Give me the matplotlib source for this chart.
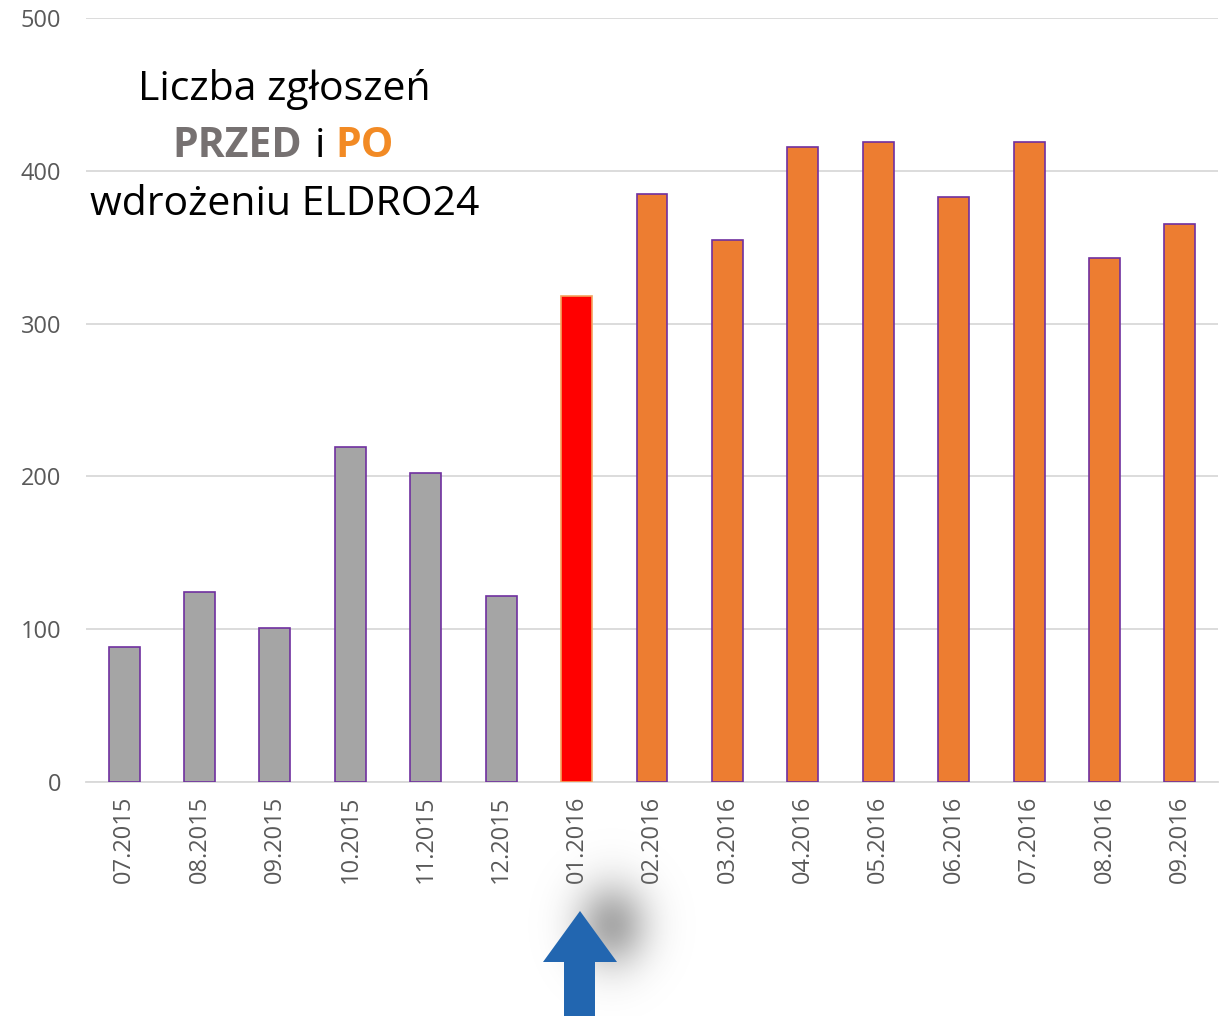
import numpy as np
import matplotlib
matplotlib.use("Agg")
import matplotlib.pyplot as plt
from matplotlib.patches import Polygon

plt.rcParams['font.family'] = ['Open Sans', 'DejaVu Sans']

months = ['07.2015', '08.2015', '09.2015', '10.2015', '11.2015', '12.2015', '01.2016',
          '02.2016', '03.2016', '04.2016', '05.2016', '06.2016', '07.2016', '08.2016', '09.2016']
counts = [88, 124, 101, 219, 202, 122, 318, 385, 355, 416, 419, 383, 419, 343, 365]
colors = ['#a5a5a5'] * 6 + ['#ff0000'] + ['#ed7d31'] * 8
edges = ['#7030a0'] * 6 + ['#f4a460'] + ['#7030a0'] * 8

fig = plt.figure(figsize=(12.25, 10.16), dpi=100)
ax = fig.add_axes([0.0705, 0.2305, 0.9235, 0.7515])

x = np.arange(len(months))
ax.bar(x, counts, width=0.41, color=colors, edgecolor=edges, linewidth=1.2, zorder=3)

ax.set_xlim(-0.5, len(months) - 0.5)
ax.set_ylim(0, 500)
ax.set_yticks([0, 100, 200, 300, 400, 500])
ax.set_xticks(x)
ax.set_xticklabels(months, rotation=90)
ax.grid(axis='y', color='#d9d9d9', linewidth=1.3, zorder=0)
for s in ['top', 'right', 'left']:
    ax.spines[s].set_visible(False)
ax.spines['bottom'].set_color('#d9d9d9')
ax.spines['bottom'].set_linewidth(1.3)
ax.tick_params(length=0, labelsize=17, colors='#595959')
ax.tick_params(axis='y', pad=18)
ax.tick_params(axis='x', pad=10)

# title block
fig.text(0.232, 0.9115, 'Liczba zgłoszeń', ha='center', va='center', fontsize=29.5, color='black')
fig.text(0.194, 0.8555, 'PRZED', ha='center', va='center', fontsize=29.5, color='#767171', fontweight='bold')
fig.text(0.261, 0.8555, 'i', ha='center', va='center', fontsize=29.5, color='black')
fig.text(0.298, 0.8555, 'PO', ha='center', va='center', fontsize=29.5, color='#f28a24', fontweight='bold')
fig.text(0.232, 0.7985, 'wdrożeniu ELDRO24', ha='center', va='center', fontsize=29.5, color='black')

# arrow with soft shadow
ov = fig.add_axes([0, 0, 1, 1], zorder=5)
ov.axis('off')
gx, gy = np.meshgrid(np.linspace(520, 720, 200), np.linspace(820, 1016, 196))
glow = np.exp(-(((gx - 612) / 26) ** 2 + ((gy - 925) / 30) ** 2) / 2)
rgba = np.zeros(glow.shape + (4,))
rgba[..., :3] = 0.55
rgba[..., 3] = glow * 0.75
ov.imshow(rgba, extent=[520, 720, 1016, 820], zorder=1, interpolation='bilinear', aspect='auto')
arrow = [(580, 911), (617, 962), (595, 962), (595, 1016), (564, 1016), (564, 962), (543, 962)]
ov.add_patch(Polygon(arrow, closed=True, facecolor='#2266b0', edgecolor='none', zorder=2))
ov.set_xlim(0, 1225)
ov.set_ylim(1016, 0)

fig.savefig('out.png', dpi=100)
